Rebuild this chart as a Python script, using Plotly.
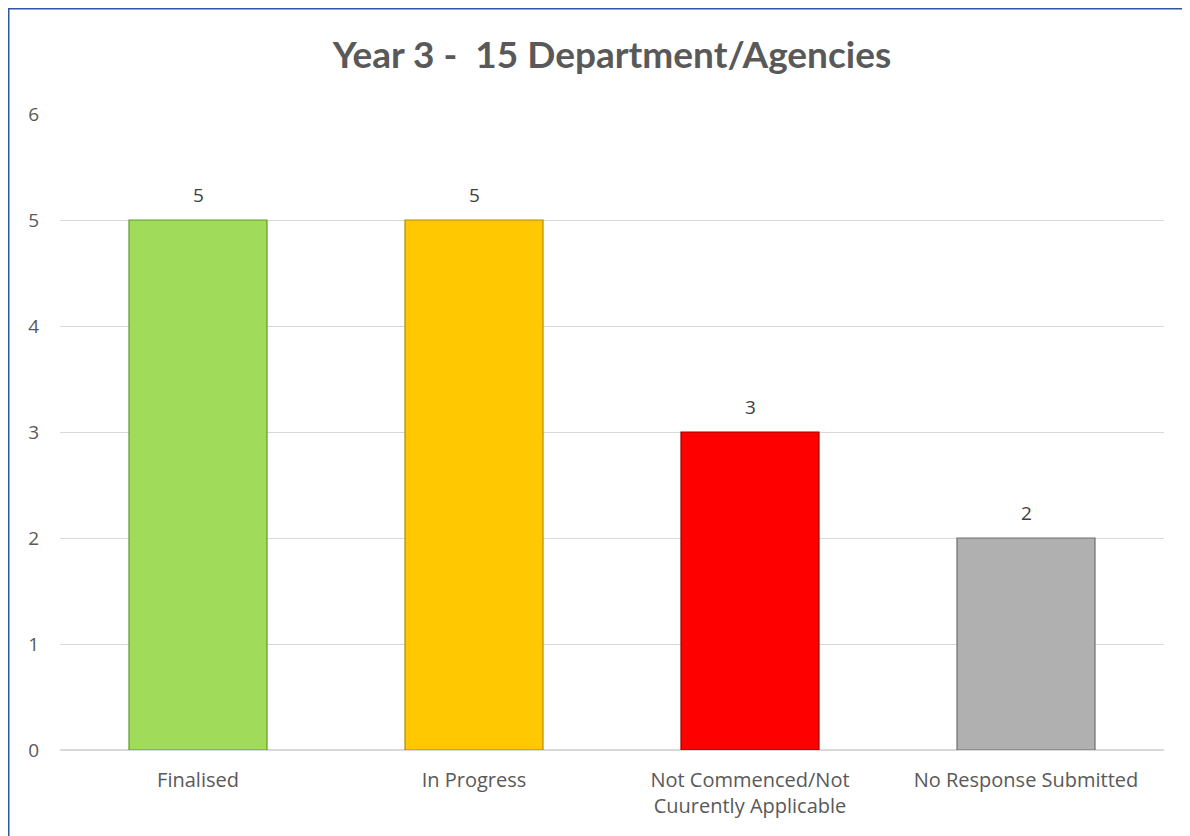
import plotly.graph_objects as go

categories = ["Finalised", "In Progress", "Not Commenced/Not<br>Cuurently Applicable", "No Response Submitted"]
values = [5, 5, 3, 2]
bar_colors = ["#a0dc5a", "#ffc800", "#ff0000", "#b0b0b0"]
edge_colors = ["#5f9a2a", "#b38a00", "#a00000", "#6e6e6e"]
y_ticks = [0, 1, 2, 3, 4, 5, 6]

# page has an 8px body margin, so the figure is a bit smaller than the window
W, H = 1182, 828
ml, mr, mt, mb = 52, 26, 106, 86
pw, ph = W - ml - mr, H - mt - mb

FONT = "Open Sans"

fig = go.Figure(go.Bar(
    x=categories, y=values,
    marker=dict(color=bar_colors, line=dict(color=edge_colors, width=1.2)),
    hoverinfo="x+y",
))

for c, v in zip(categories, values):
    fig.add_annotation(x=c, y=v, text=str(v), showarrow=False, yanchor="bottom",
                       yshift=10, font=dict(family=FONT, size=19, color="#404040"))

fig.update_layout(
    width=W, height=H,
    margin=dict(l=ml, r=mr, t=mt, b=mb),
    plot_bgcolor="white", paper_bgcolor="white",
    bargap=0.5,
    showlegend=False,
    font=dict(family=FONT, color="#595959"),
    title=dict(text="<b>Year 3 -  15 Department/Agencies</b>", x=0.5, xref="paper",
               y=1 - 47 / H, yref="container", yanchor="middle", xanchor="center",
               font=dict(family="Lato", size=37, color="#595959")),
    yaxis=dict(range=[0, 6], tickvals=y_ticks, showgrid=True, gridcolor="#d9d9d9", gridwidth=1,
               zeroline=True, zerolinecolor="#d9d9d9", zerolinewidth=1.5, showline=False,
               ticks="", ticklabelstandoff=20,
               tickfont=dict(family=FONT, size=19, color="#595959")),
    xaxis=dict(showgrid=False, showline=False, ticks="", ticklabelstandoff=16,
               tickfont=dict(family=FONT, size=20, color="#595959")),
)

fig.add_shape(type="rect", xref="paper", yref="paper",
              x0=(0.75 - ml) / pw, x1=1.2, y0=-0.3, y1=1 + (mt - 0.75) / ph,
              line=dict(color="#2f55a4", width=1.5), fillcolor="rgba(0,0,0,0)", layer="below")

fig.write_html("out.html")
